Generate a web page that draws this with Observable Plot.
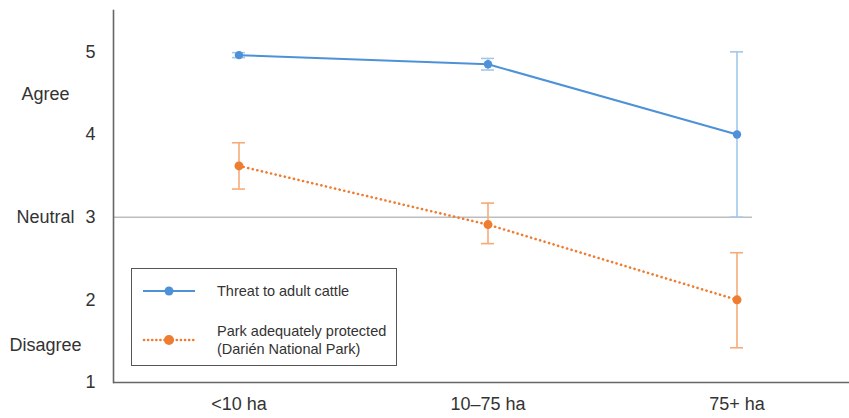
<!DOCTYPE html>
<html>
<head>
<meta charset="utf-8">
<script src="https://cdn.jsdelivr.net/npm/d3@7"></script>
<script src="https://cdn.jsdelivr.net/npm/@observablehq/plot@0.6"></script>
<style>
  body { margin: 0; background: #fff; font-family: "Liberation Sans", Arial, sans-serif; }
  #wrap { position: relative; width: 849px; height: 418px; }
  #legend { position: absolute; left: 131px; top: 268px; width: 264px; height: 96px;
            border: 1px solid #555; background: #fff; color: #333; font-size: 14.5px; }
  .item { position: absolute; left: 10px; display: flex; align-items: center; }
  .item span { margin-left: 21px; line-height: 18px; }
</style>
</head>
<body>
<div id="wrap"></div>
<script>
const categories = ["<10 ha", "10–75 ha", "75+ ha"];
const threatMean = [4.96, 4.85, 4.0];
const threatLow  = [4.93, 4.78, 3.0];
const threatHigh = [4.99, 4.92, 5.0];
const parkMean   = [3.62, 2.91, 2.0];
const parkLow    = [3.34, 2.68, 1.42];
const parkHigh   = [3.90, 3.17, 2.57];
const yTicks = [1, 2, 3, 4, 5];
const scaleLabels = ["Agree", "Neutral", "Disagree"];
const scaleLabelValues = [4.49, 3, 1.45];

const blue = "#4d92d8", blueLight = "#a3c7ec";
const orange = "#ee7d31", orangeLight = "#f6aa78";

const threat = categories.map((c, i) => ({cat: c, mean: threatMean[i], lo: threatLow[i], hi: threatHigh[i]}));
const park = categories.map((c, i) => ({cat: c, mean: parkMean[i], lo: parkLow[i], hi: parkHigh[i]}));
const labels = scaleLabels.map((t, i) => ({t, v: scaleLabelValues[i]}));

const chart = Plot.plot({
  width: 849,
  height: 418,
  marginLeft: 113,
  marginRight: 0,
  marginTop: 10,
  marginBottom: 36,
  style: {fontFamily: "Liberation Sans, Arial, sans-serif", fontSize: "18px", color: "#333", background: "#fff"},
  x: {type: "band", domain: categories, range: [113.5, 860.5], paddingInner: 0.948, paddingOuter: 0.474, label: null},
  y: {domain: [1, 5.5], label: null},
  marks: [
    Plot.ruleY([3], {stroke: "#bdbdbd", strokeWidth: 1.5, insetRight: 97}),
    Plot.ruleX(threat, {x: "cat", y1: "lo", y2: "hi", stroke: blueLight, strokeWidth: 1.6}),
    Plot.tickY(threat, {x: "cat", y: "lo", stroke: blueLight, strokeWidth: 1.6}),
    Plot.tickY(threat, {x: "cat", y: "hi", stroke: blueLight, strokeWidth: 1.6}),
    Plot.ruleX(park, {x: "cat", y1: "lo", y2: "hi", stroke: orangeLight, strokeWidth: 1.6}),
    Plot.tickY(park, {x: "cat", y: "lo", stroke: orangeLight, strokeWidth: 1.6}),
    Plot.tickY(park, {x: "cat", y: "hi", stroke: orangeLight, strokeWidth: 1.6}),
    Plot.line(threat, {x: "cat", y: "mean", stroke: blue, strokeWidth: 2}),
    Plot.line(park, {x: "cat", y: "mean", stroke: orange, strokeWidth: 2.6, strokeDasharray: "0.1,4.6", strokeLinecap: "round"}),
    Plot.dot(threat, {x: "cat", y: "mean", fill: blue, r: 4.2}),
    Plot.dot(park, {x: "cat", y: "mean", fill: orange, r: 4.5}),
    Plot.ruleY([1], {stroke: "#666", strokeWidth: 1.6}),
    Plot.frame({anchor: "left", stroke: "#666", strokeWidth: 1.6}),
    Plot.axisY(yTicks, {tickSize: 0, tickPadding: 18, tickFormat: "d", fontSize: 18, fill: "#333", label: null}),
    Plot.axisX({tickSize: 0, tickPadding: 15, fontSize: 18, fill: "#333", label: null}),
    Plot.text(labels, {y: "v", text: "t", frameAnchor: "left", dx: -68, textAnchor: "middle", fontSize: 18, fill: "#333"})
  ]
});
const wrap = document.getElementById("wrap");
wrap.appendChild(chart);

const legend = document.createElement("div");
legend.id = "legend";
legend.innerHTML = `
  <div class="item" style="top:13px">
    <svg width="54" height="12"><line x1="1" y1="6" x2="53" y2="6" stroke="${blue}" stroke-width="2"/><circle cx="27" cy="6" r="4.5" fill="${blue}"/></svg>
    <span>Threat to adult cattle</span>
  </div>
  <div class="item" style="top:53px">
    <svg width="54" height="12"><line x1="2" y1="6" x2="53" y2="6" stroke="${orange}" stroke-width="2.6" stroke-dasharray="0.1,4" stroke-linecap="round"/><circle cx="27" cy="6" r="5" fill="${orange}"/></svg>
    <span>Park adequately protected<br>(Darién National Park)</span>
  </div>`;
wrap.appendChild(legend);
</script>
</body>
</html>
